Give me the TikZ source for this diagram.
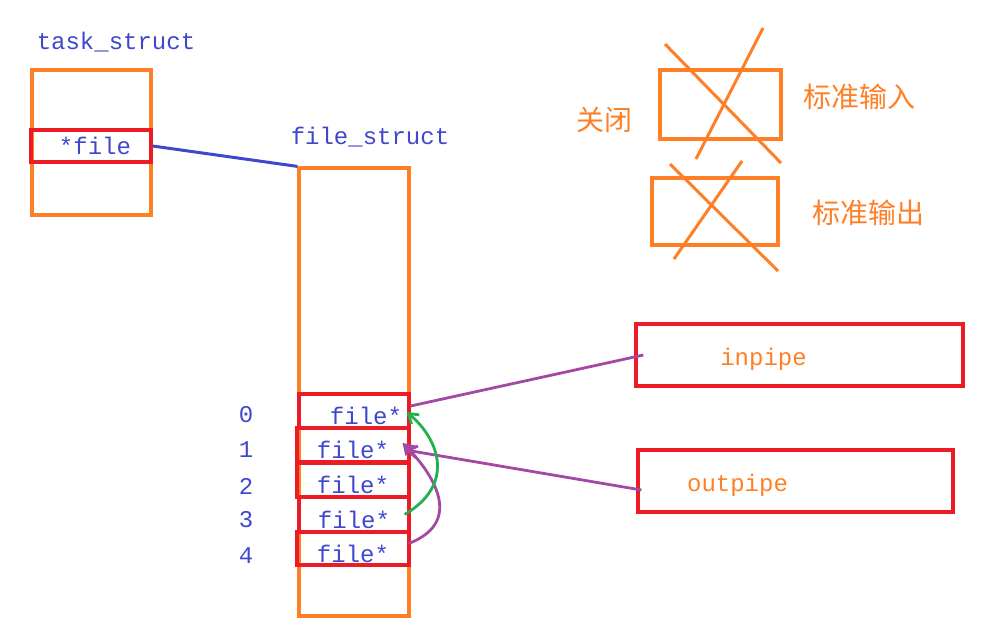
\documentclass[tikz,border=0pt]{standalone}
\usepackage{fontspec}
\usepackage{tikz}
\usetikzlibrary{positioning, arrows.meta, calc}
\newfontfamily\codefont{Liberation Mono}
\newfontfamily\cjk{Noto Sans CJK SC}
\definecolor{paintorange}{RGB}{255, 127, 39}
\definecolor{paintred}{RGB}{237, 28, 36}
\definecolor{paintblue}{RGB}{63, 72, 204}
\definecolor{paintpurple}{RGB}{163, 73, 164}
\definecolor{paintgreen}{RGB}{34, 177, 76}

\begin{document}
\begin{tikzpicture}[x=1pt, y=-1pt, >={Straight Barb[length=9pt, width=12pt]},
    font=\codefont\fontsize{24}{24}\selectfont,
    obox/.style={draw=paintorange, line width=3.2pt, minimum width=#1, inner sep=0pt},
    rbox/.style={draw=paintred, line width=3.2pt, inner sep=0pt, text=paintblue},
    row/.style={rbox, minimum width=110pt, minimum height=34pt, text height=27pt, text depth=0pt},
    pipe/.style={rbox, minimum height=62pt, text=paintorange, text height=22pt, text depth=2pt},
    lbl/.style={text=paintblue, inner sep=0pt},
    zh/.style={text=paintorange, inner sep=0pt, font=\cjk\fontsize{28}{28}\selectfont},
    cross/.style={paintorange, line width=3pt}]
  \useasboundingbox (0,0) rectangle (1007,629);
  % task_struct
  \node[lbl] (tasklbl) at (116,42) {task\_struct};
  \node[obox=119pt, minimum height=145pt] (task) at (91.5,142.5) {};
  \node[rbox, minimum width=120pt, minimum height=32pt] (ptr) at (91,146) {\hspace*{8pt}*file};
  % file_struct
  \node[lbl] (fslbl) at (370,137) {file\_struct};
  \node[obox=110pt, minimum height=448pt] (fs) at (354,392) {};
  \node[row] (f0) at (354,411) {\hspace*{24pt}file*};
  \node[row, minimum width=112pt] (f1) at (353,445) {file*};
  \node[row, minimum width=112pt] (f2) at (353,480) {file*};
  \node[row] (f3) at (354,514.5) {file*};
  \node[row, minimum width=112pt, minimum height=33pt] (f4) at (353,548.5) {file*};
  % descriptor numbers
  \foreach \n/\y in {0/415, 1/450, 2/486, 3/520, 4/556}
    \node[lbl] (num\n) at (246,\y) {\n};
  \draw[paintblue, line width=3pt] (ptr.east) -- (fs.north west);
  % pipes
  \node[pipe, minimum width=327pt] (inpipe) at (799.5,355) {\hspace*{-72pt}inpipe};
  \node[pipe, minimum width=315pt] (outpipe) at (795.5,481) {\hspace*{-116pt}outpipe};
  \draw[paintpurple, line width=2.8pt] ([xshift=9pt]inpipe.west) -- ([yshift=5pt]f0.east);
  \draw[->, paintpurple, line width=2.8pt] ([xshift=5pt,yshift=-9pt]outpipe.west) -- ([xshift=-5pt,yshift=-5pt]f1.east);
  \draw[->, paintpurple, line width=2.8pt] ([xshift=-2pt,yshift=5pt]f4.east)
    .. controls (470,520) and (425,465) .. ([xshift=-8pt,yshift=2pt]f1.east);
  \draw[->, paintgreen, line width=2.8pt] ([xshift=-6pt]f3.east)
    .. controls (455,485) and (440,440) .. ([xshift=-4pt,yshift=-1pt]f0.east);
  % closed standard streams
  \node[zh] (close) at (604,120) {关闭};
  \node[obox=121pt, minimum height=69pt] (stdin) at (720.5,104.5) {};
  \node[obox=126pt, minimum height=67pt] (stdout) at (715,211.5) {};
  \node[zh, anchor=west] (stdinlbl) at (803,97) {标准输入};
  \node[zh, anchor=west] (stdoutlbl) at (812,213) {标准输出};
  \draw[cross] (665,44) -- (781,163);
  \draw[cross] (696,159) -- (763,28);
  \draw[cross] (670,164) -- (778,271);
  \draw[cross] (674,259) -- (742,161);
\end{tikzpicture}
\end{document}
